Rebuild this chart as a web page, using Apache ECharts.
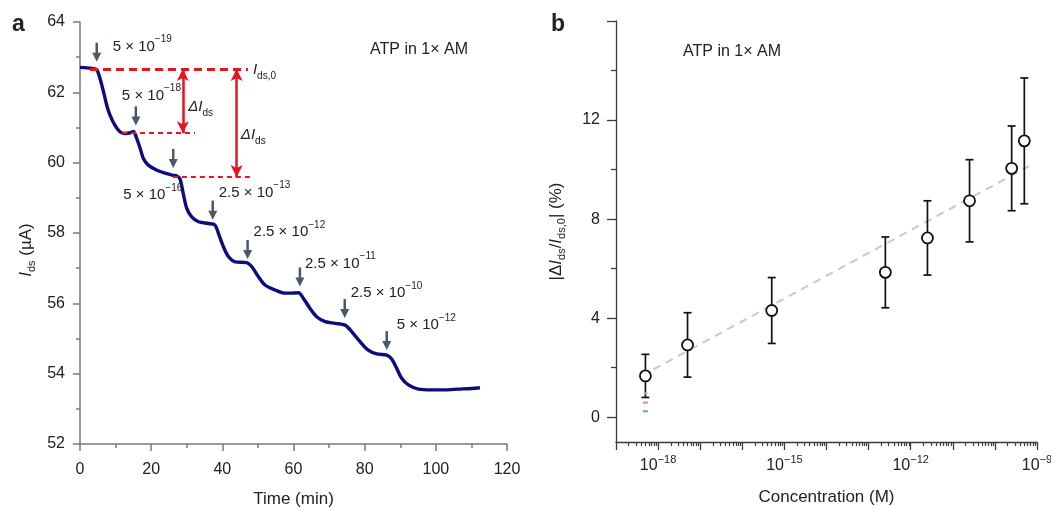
<!DOCTYPE html>
<html lang="en">
<head>
<meta charset="UTF-8">
<title>ATP in 1x AM</title>
<style>
  html, body { margin: 0; padding: 0; background: #fff; }
  #main { width: 1051px; height: 507px; }
</style>
</head>
<body>
<div id="main"></div>
<script src="https://cdn.jsdelivr.net/npm/echarts@6/dist/echarts.min.js"></script>
<script>
// ---- panel a : drain current vs time ----
var timeMin = [0, 3.3, 4.7, 5.6, 6.6, 7.5, 8.4, 9.8, 11.2, 12.6, 14.1, 15.0, 15.9, 16.9, 17.8, 19.2, 21.5, 23.9,
    26.2, 27.2, 28.1, 29.0, 30.0, 31.4, 33.3, 36.1, 37.9, 38.9, 40.3, 41.7, 43.6, 46.8, 48.3, 50.1, 52.0, 54.8,
    57.6, 59.0, 61.4, 62.8, 64.6, 66.5, 68.9, 71.7, 74.5, 76.4, 78.7, 81.0, 83.4, 86.2, 87.6, 89.0, 90.4, 92.3,
    95.1, 98.8, 102.6, 106.3, 110.1, 112.4];
var currentUA = [62.71, 62.68, 62.64, 62.40, 62.02, 61.64, 61.36, 61.07, 60.88, 60.83, 60.85, 60.89, 60.70, 60.41,
    60.12, 59.93, 59.79, 59.70, 59.64, 59.62, 59.54, 59.13, 58.70, 58.46, 58.32, 58.27, 58.23, 57.99, 57.61, 57.33,
    57.18, 57.16, 57.04, 56.76, 56.52, 56.38, 56.29, 56.29, 56.30, 56.14, 55.86, 55.62, 55.48, 55.43, 55.38, 55.19,
    54.91, 54.67, 54.56, 54.53, 54.42, 54.15, 53.87, 53.68, 53.56, 53.54, 53.54, 53.56, 53.58, 53.60];

// additions (arrows): time, current at arrow tip, added concentration
var addTime = [4.7, 15.7, 26.2, 37.3, 47.1, 61.8, 74.4, 86.2];
var addTip = [62.87, 61.06, 59.85, 58.38, 57.26, 56.48, 55.58, 54.67];
var addLabel = ['5 × 10^−19', '5 × 10^−18', '5 × 10^−16', '2.5 × 10^−13', '2.5 × 10^−12',
    '2.5 × 10^−11', '2.5 × 10^−10', '5 × 10^−12'];

// reference levels I_ds,0 and the two steps
var levelI = [62.66, 60.84, 59.59];

// ---- panel b : response vs concentration ----
var concM = [5e-19, 5e-18, 5e-16, 2.5e-13, 2.5e-12, 2.5e-11, 2.5e-10, 5e-10];
var responsePct = [1.67, 2.92, 4.31, 5.85, 7.24, 8.74, 10.05, 11.16];
var responseErr = [0.87, 1.30, 1.33, 1.43, 1.50, 1.66, 1.71, 2.54];
var fitConc = [7.7e-19, 6.5e-10];
var fitPct = [1.93, 10.14];
var stubPct = [0.96, 0.59, 0.24];
var stubColor = ['#a9d6ee', '#e36a6a', '#3f9b6e'];
var xLabelExp = [-18, -15, -12, -9];
var yMajor = [0, 4, 8, 12, 16];
var yLabels = [0, 4, 8, 12];
var yMinor = [2, 6, 10, 14];

// layout bits (pixels)
var labelOffset = [[16, -15], [-14, -30], [-50, 27], [6, -27], [6, -27], [5, -23], [6, -25], [10, -25]];

var FONT = '"Liberation Sans", Arial, Helvetica, sans-serif';
var INK = '#222';
var NAVY = '#0c0c7e';
var RED = '#e8141c';
var GRAYA = '#7a7a7a';
var GRAYB = '#3c3c3c';

function supText(s) {
    var p = s.split('^');
    return '{n|' + p[0] + '}{s|' + p[1] + '}';
}

var supRich = {
    n: { fontSize: 15, lineHeight: 24, verticalAlign: 'middle', fill: INK, color: INK, fontFamily: FONT },
    s: { fontSize: 10, lineHeight: 12, verticalAlign: 'top', fill: INK, color: INK, fontFamily: FONT }
};
function subRich(size) {
    return {
        n: { fontSize: size, lineHeight: 22, verticalAlign: 'middle', fill: INK, color: INK, fontFamily: FONT },
        i: { fontSize: size, lineHeight: 22, verticalAlign: 'middle', fontStyle: 'italic', fill: INK, color: INK, fontFamily: FONT },
        s: { fontSize: Math.round(size * 0.66), lineHeight: 12, verticalAlign: 'bottom', fill: INK, color: INK, fontFamily: FONT }
    };
}

// minor log ticks (2..9 x 10^n)
var logMinor = [];
for (var e = -19; e < -9; e++) {
    for (var k = 2; k <= 9; k++) logMinor.push(e + Math.log10(k));
}

var chart = echarts.init(document.getElementById('main'));

var option = {
    animation: false,
    textStyle: { fontFamily: FONT, color: INK },
    grid: [
        { left: 80, top: 22, width: 427, height: 422, containLabel: false, outerBoundsMode: 'none' },
        { left: 616, top: 21, width: 421, height: 421, containLabel: false, outerBoundsMode: 'none' }
    ],
    xAxis: [
        {
            gridIndex: 0, type: 'value', position: 'bottom', min: 0, max: 120, interval: 20,
            name: 'Time (min)', nameLocation: 'middle', nameGap: 47,
            nameTextStyle: { fontSize: 17, color: INK },
            axisLine: { onZero: false, lineStyle: { color: GRAYA, width: 1.5 } },
            axisTick: { length: 7, lineStyle: { color: GRAYA, width: 1.5 } },
            minorTick: { show: true, splitNumber: 2, length: 4, lineStyle: { color: GRAYA, width: 1.5 } },
            axisLabel: { fontSize: 16, color: INK, margin: 18 },
            splitLine: { show: false }
        },
        {
            gridIndex: 1, type: 'value', position: 'bottom', min: -19, max: -9, interval: 1,
            name: 'Concentration (M)', nameLocation: 'middle', nameGap: 47,
            nameTextStyle: { fontSize: 17, color: INK },
            axisLine: { onZero: false, lineStyle: { color: GRAYB, width: 1.3 } },
            axisTick: { length: 8, lineStyle: { color: GRAYB, width: 1.3 } },
            axisLabel: {
                margin: 12, color: INK,
                formatter: function (v) {
                    return xLabelExp.indexOf(Math.round(v)) >= 0 ? '{n|10}{s|−' + (-Math.round(v)) + '}' : '';
                },
                rich: {
                    n: { fontSize: 16, lineHeight: 24, verticalAlign: 'middle', color: INK },
                    s: { fontSize: 11, lineHeight: 12, verticalAlign: 'top', color: INK }
                }
            },
            splitLine: { show: false }
        },
        {
            gridIndex: 1, type: 'value', position: 'bottom', min: -19, max: -9,
            axisLine: { show: false, onZero: false },
            axisTick: { show: true, length: 4, customValues: logMinor, lineStyle: { color: GRAYB, width: 1.2 } },
            axisLabel: { show: false },
            splitLine: { show: false }
        }
    ],
    yAxis: [
        {
            gridIndex: 0, type: 'value', position: 'left', min: 52, max: 64, interval: 2,
            name: '{i|I}{s|ds}{n| (µA)}', nameLocation: 'middle', nameGap: 43,
            nameTextStyle: { fontSize: 17, color: INK, rich: subRich(17), padding: [0, 34, 0, 0] },
            axisLine: { onZero: false, lineStyle: { color: GRAYA, width: 1.5 } },
            axisTick: { length: 7, lineStyle: { color: GRAYA, width: 1.5 } },
            minorTick: { show: true, splitNumber: 2, length: 4, lineStyle: { color: GRAYA, width: 1.5 } },
            axisLabel: { fontSize: 16, color: INK, margin: 15 },
            splitLine: { show: false }
        },
        {
            gridIndex: 1, type: 'value', position: 'left', min: -1, max: 16,
            name: '{n||Δ}{i|I}{s|ds}{n|/}{i|I}{s|ds,0}{n|| (%)}', nameLocation: 'middle', nameGap: 49,
            nameTextStyle: { fontSize: 17, color: INK, rich: subRich(17) },
            axisLine: { onZero: false, lineStyle: { color: GRAYB, width: 1.3 } },
            axisTick: { length: 9, customValues: yMajor, lineStyle: { color: GRAYB, width: 1.3 } },
            axisLabel: { fontSize: 16, color: INK, margin: 16, customValues: yLabels },
            splitLine: { show: false }
        },
        {
            gridIndex: 1, type: 'value', position: 'left', min: -1, max: 16,
            axisLine: { show: false, onZero: false },
            axisTick: { length: 5, customValues: yMinor, lineStyle: { color: GRAYB, width: 1.3 } },
            axisLabel: { show: false },
            splitLine: { show: false }
        }
    ],
    series: [
        {
            type: 'line', xAxisIndex: 0, yAxisIndex: 0,
            data: timeMin.map(function (t, i) { return [t, currentUA[i]]; }),
            showSymbol: false, smooth: 0.3,
            lineStyle: { color: NAVY, width: 3.4 },
            z: 3,
            markLine: {
                silent: true, symbol: 'none', label: { show: false },
                data: [
                    [{ coord: [2.8, levelI[0]], lineStyle: { color: RED, width: 3, type: [8, 5] } }, { coord: [47.2, levelI[0]] }],
                    [{ coord: [11.8, levelI[1]], lineStyle: { color: RED, width: 2, type: [5, 4] } }, { coord: [32.3, levelI[1]] }],
                    [{ coord: [26.1, levelI[2]], lineStyle: { color: RED, width: 2, type: [5, 4] } }, { coord: [47.8, levelI[2]] }]
                ]
            }
        },
        {
            type: 'custom', xAxisIndex: 0, yAxisIndex: 0,
            data: addTime.map(function (t, i) { return [t, addTip[i]]; }),
            encode: { x: 0, y: 1 },
            z: 4,
            renderItem: function (params, api) {
                var p = api.coord([api.value(0), api.value(1)]);
                var c = '#4b5867';
                return {
                    type: 'group',
                    children: [
                        { type: 'line', shape: { x1: p[0], y1: p[1] - 19, x2: p[0], y2: p[1] - 7 }, style: { stroke: c, lineWidth: 2.5 } },
                        { type: 'polygon', shape: { points: [[p[0] - 4.5, p[1] - 9], [p[0] + 4.5, p[1] - 9], [p[0], p[1]]] }, style: { fill: c } }
                    ]
                };
            },
            markLine: {
                silent: true, symbol: ['arrow', 'arrow'], symbolSize: [9, 12], label: { show: false },
                lineStyle: { color: RED, width: 2.5, type: 'solid' },
                data: [
                    [{ coord: [28.9, levelI[0]] }, { coord: [28.9, levelI[1]] }],
                    [{ coord: [44.0, levelI[0]] }, { coord: [44.0, levelI[2]] }]
                ]
            }
        },
        {
            type: 'line', xAxisIndex: 1, yAxisIndex: 1,
            data: fitConc.map(function (c, i) { return [Math.log10(c), fitPct[i]]; }),
            showSymbol: false,
            lineStyle: { color: '#c9c9c9', width: 2, type: [8, 6] },
            z: 1
        },
        {
            type: 'custom', xAxisIndex: 1, yAxisIndex: 1,
            data: concM.map(function (c, i) { return [Math.log10(c), responsePct[i] - responseErr[i], responsePct[i] + responseErr[i]]; }),
            encode: { x: 0, y: [1, 2] },
            z: 2,
            renderItem: function (params, api) {
                var lo = api.coord([api.value(0), api.value(1)]);
                var hi = api.coord([api.value(0), api.value(2)]);
                var cap = 4;
                var st = { stroke: '#111', lineWidth: 1.7 };
                return {
                    type: 'group',
                    children: [
                        { type: 'line', shape: { x1: lo[0], y1: lo[1], x2: hi[0], y2: hi[1] }, style: st },
                        { type: 'line', shape: { x1: lo[0] - cap, y1: lo[1], x2: lo[0] + cap, y2: lo[1] }, style: st },
                        { type: 'line', shape: { x1: hi[0] - cap, y1: hi[1], x2: hi[0] + cap, y2: hi[1] }, style: st }
                    ]
                };
            }
        },
        {
            type: 'scatter', xAxisIndex: 1, yAxisIndex: 1,
            data: concM.map(function (c, i) { return [Math.log10(c), responsePct[i]]; }),
            symbol: 'circle', symbolSize: 11,
            itemStyle: { color: '#fff', borderColor: '#111', borderWidth: 1.8, opacity: 1 },
            z: 3
        },
        {
            type: 'scatter', xAxisIndex: 1, yAxisIndex: 1,
            data: stubPct.map(function (v, i) {
                return { value: [Math.log10(concM[0]), v], itemStyle: { color: stubColor[i] } };
            }),
            symbol: 'rect', symbolSize: [5, 2],
            z: 2
        }
    ]
};

chart.setOption(option);

// text annotations
function textEl(x, y, text, rich, extra) {
    var style = { text: text, fill: INK, fontFamily: FONT, fontSize: 15, align: 'left', verticalAlign: 'middle' };
    if (rich) style.rich = rich;
    if (extra) for (var key in extra) style[key] = extra[key];
    return { type: 'text', x: x, y: y, silent: true, z: 100, style: style };
}

var graphics = [
    textEl(12, 25, 'a', null, { fontSize: 23, fontWeight: 'bold' }),
    textEl(551, 25, 'b', null, { fontSize: 23, fontWeight: 'bold' }),
    textEl(370, 50, 'ATP in 1× AM', null, { fontSize: 16 }),
    textEl(683, 52, 'ATP in 1× AM', null, { fontSize: 16 })
];

addTime.forEach(function (t, i) {
    var p = chart.convertToPixel({ gridIndex: 0 }, [t, addTip[i]]);
    graphics.push(textEl(p[0] + labelOffset[i][0], p[1] + labelOffset[i][1], supText(addLabel[i]), supRich));
});

var p0 = chart.convertToPixel({ gridIndex: 0 }, [48.6, levelI[0]]);
graphics.push(textEl(p0[0], p0[1] + 1, '{i|I}{s|ds,0}', subRich(15)));
var d1 = chart.convertToPixel({ gridIndex: 0 }, [30.4, 61.58]);
graphics.push(textEl(d1[0], d1[1], '{i|ΔI}{s|ds}', subRich(15)));
var d2 = chart.convertToPixel({ gridIndex: 0 }, [45.2, 60.79]);
graphics.push(textEl(d2[0], d2[1], '{i|ΔI}{s|ds}', subRich(15)));

chart.setOption({ graphic: graphics });
</script>
</body>
</html>
